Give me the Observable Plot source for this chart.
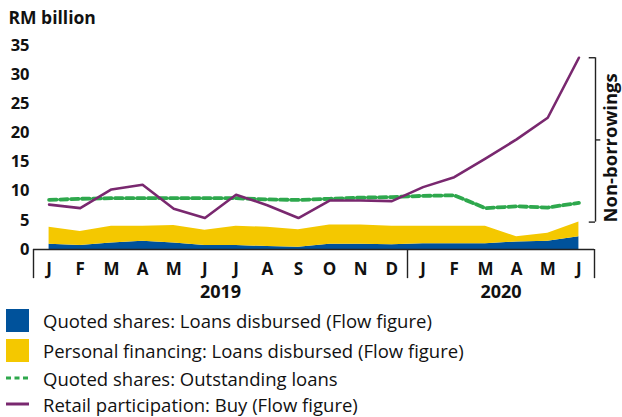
<!DOCTYPE html>
<html>
<head>
<meta charset="utf-8">
<script src="https://cdn.jsdelivr.net/npm/d3@7"></script>
<script src="https://cdn.jsdelivr.net/npm/@observablehq/plot@0.6"></script>
<style>
  html, body { margin: 0; padding: 0; background: #fff; }
  #wrap { position: relative; width: 622px; height: 417px; font-family: "Open Sans", "Noto Sans", sans-serif; color: #111; }
  #chart { position: absolute; left: 0; top: 0; }
  .row { position: absolute; left: 0; height: 26px; display: flex; align-items: center; font-size: 18.5px; white-space: nowrap; }
  .sw { position: absolute; left: 6px; }
  .lbl { position: absolute; left: 43px; }
</style>
</head>
<body>
<div id="wrap">
  <div id="chart"></div>
  <div id="legend"></div>
</div>
<script>
const months = ["J","F","M","A","M","J","J","A","S","O","N","D","J","F","M","A","M","J"];
const years = ["2019","2020"];
const yearStart = [0, 12];
const yearEnd = [11, 17];
const yTicks = [0, 5, 10, 15, 20, 25, 30, 35];

const quotedLoans = [0.9,0.7,1.1,1.4,1.1,0.7,0.7,0.5,0.4,0.9,0.9,0.8,1.0,1.0,1.0,1.3,1.4,2.2];
const personalFin = [2.9,2.4,2.9,2.6,3.0,2.6,3.3,3.3,3.0,3.3,3.3,3.2,3.0,3.0,3.0,0.9,1.4,2.5];
const outstanding = [8.5,8.7,8.8,8.8,8.8,8.8,8.8,8.6,8.5,8.7,8.9,9.0,9.2,9.3,7.1,7.4,7.2,8.0];
const retailBuy   = [7.7,7.1,10.3,11.1,7.0,5.4,9.4,7.6,5.4,8.4,8.4,8.3,10.7,12.4,15.6,18.9,22.6,32.9];

const seriesNames = [
  "Quoted shares: Loans disbursed (Flow figure)",
  "Personal financing: Loans disbursed (Flow figure)",
  "Quoted shares: Outstanding loans",
  "Retail participation: Buy (Flow figure)"
];
const colors = ["#00529b", "#f4c800", "#2ea84d", "#79286f"];

const idx = months.map((m, i) => i);
const stackRows = [
  ...idx.map(i => ({i, series: seriesNames[0], value: quotedLoans[i]})),
  ...idx.map(i => ({i, series: seriesNames[1], value: personalFin[i]}))
];
const monthRows = months.map((m, i) => ({i, m}));
const yearRows = years.map((y, k) => ({y, x: (yearStart[k] + yearEnd[k]) / 2}));
const dividers = [-0.5, ...yearEnd.map(e => e + 0.5)];

const last = idx.length - 1;
const bracketLow = quotedLoans[last] + personalFin[last];
const bracketHigh = retailBuy[last];
const bracketMid = (bracketLow + bracketHigh) / 2;
const xEdge = last + 0.5;

const chart = Plot.plot({
  width: 622,
  height: 302,
  marginLeft: 33,
  marginRight: 28,
  marginTop: 45,
  marginBottom: 53,
  style: {fontFamily: "'Open Sans', 'Noto Sans', sans-serif", background: "#fff", color: "#111", overflow: "visible"},
  x: {domain: [-0.5, last + 0.5], axis: null},
  y: {domain: [0, 35], axis: null},
  color: {domain: seriesNames.slice(0, 2), range: colors.slice(0, 2)},
  marks: [
    Plot.areaY(stackRows, {x: "i", y: "value", fill: "series", order: seriesNames.slice(0, 2)}),
    Plot.lineY(outstanding, {x: (d, i) => i, y: d => d, stroke: colors[2], strokeWidth: 3.8, strokeDasharray: "7.5,3.5"}),
    Plot.lineY(retailBuy, {x: (d, i) => i, y: d => d, stroke: colors[3], strokeWidth: 2.6}),
    Plot.ruleY([0], {stroke: "#222", strokeWidth: 1.4}),
    Plot.ruleX(dividers, {y1: 0, y2: -5, stroke: "#222", strokeWidth: 1.4}),
    Plot.axisY({ticks: yTicks, tickSize: 0, tickPadding: 4, fontSize: 16.5, fontWeight: "bold", label: null}),
    Plot.text(monthRows, {x: "i", text: "m", frameAnchor: "bottom", lineAnchor: "middle", dy: 20, fontSize: 17, fontWeight: "bold"}),
    Plot.text(yearRows, {x: "x", text: "y", frameAnchor: "bottom", lineAnchor: "middle", dy: 43, fontSize: 18, fontWeight: "bold"}),
    Plot.text(["RM billion"], {frameAnchor: "top-left", text: d => d, dx: -25, dy: -27, textAnchor: "start", lineAnchor: "middle", fontSize: 17.5, fontWeight: "bold"}),
    // bracket
    Plot.ruleX([xEdge], {y1: bracketLow, y2: bracketHigh, dx: 1, stroke: "#222", strokeWidth: 1.4}),
    Plot.ruleY([bracketLow, bracketHigh], {x1: xEdge - 0.2, x2: xEdge, dx: 1, stroke: "#222", strokeWidth: 1.4}),
    Plot.ruleY([bracketMid], {x1: xEdge, x2: xEdge + 0.17, dx: 1, stroke: "#222", strokeWidth: 1.4}),
    Plot.text(["Non-borrowings"], {x: xEdge, y: bracketMid, text: d => d, rotate: -90, dx: 17, dy: 8, fontSize: 18.5, fontWeight: "bold", textAnchor: "middle", lineAnchor: "middle"})
  ]
});
document.getElementById("chart").appendChild(chart);

// legend
const legend = document.getElementById("legend");
const centers = [320.5, 350.5, 378, 404];
seriesNames.forEach((name, k) => {
  const row = document.createElement("div");
  row.className = "row";
  row.style.top = (centers[k] - 13) + "px";
  row.style.width = "622px";
  let sw;
  if (k < 2) {
    sw = `<svg class="sw" width="23" height="23" style="top:1.5px"><rect width="23" height="23" fill="${colors[k]}"/></svg>`;
  } else if (k === 2) {
    sw = `<svg class="sw" width="23" height="26" style="top:0"><line x1="0" x2="23" y1="13" y2="13" stroke="${colors[k]}" stroke-width="3" stroke-dasharray="5,3.5"/></svg>`;
  } else {
    sw = `<svg class="sw" width="23" height="26" style="top:0"><line x1="0" x2="23" y1="13" y2="13" stroke="${colors[k]}" stroke-width="3"/></svg>`;
  }
  row.innerHTML = sw + `<span class="lbl">${name}</span>`;
  legend.appendChild(row);
});
</script>
</body>
</html>
